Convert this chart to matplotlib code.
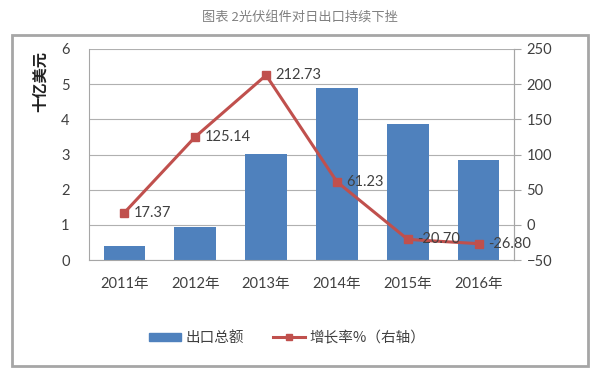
import matplotlib
matplotlib.use('Agg')
import matplotlib.pyplot as plt
from matplotlib.patches import Rectangle
from matplotlib.lines import Line2D
from matplotlib.patches import Patch

plt.rcParams['font.family'] = ['Lato', 'Noto Sans CJK SC', 'DejaVu Sans']

# data
years = ['2011年', '2012年', '2013年', '2014年', '2015年', '2016年']
export_total = [0.41, 0.95, 3.02, 4.89, 3.87, 2.84]   # 十亿美元
growth_rate = [17.37, 125.14, 212.73, 61.23, -20.70, -26.80]  # %
left_ticks = [0, 1, 2, 3, 4, 5, 6]
right_ticks = [-50, 0, 50, 100, 150, 200, 250]

blue = '#4F81BD'
red = '#C0504D'
txt = '#404040'

fig = plt.figure(figsize=(6, 3.75), dpi=100)

# outer grey frame
fig.patches.append(Rectangle((12 / 600, 1 - 366 / 375), (588 - 12) / 600, (366 - 35) / 375,
                             transform=fig.transFigure, fill=False,
                             edgecolor='#A6A6A6', linewidth=2))

fig.text(0.5, 1 - 18 / 375, '图表 2光伏组件对日出口持续下挫', ha='center', va='center',
         fontsize=9.5, color='#808080', family=['Noto Sans CJK SC', 'DejaVu Sans'])

ax = fig.add_axes([89 / 600, 1 - 260 / 375, (514 - 89) / 600, (260 - 49) / 375])
x = list(range(len(years)))
ax.bar(x, export_total, width=0.59, color=blue, zorder=2)
ax.set_xlim(-0.5, len(years) - 0.5)
ax.set_ylim(0, 6)
ax.set_yticks(left_ticks)
ax.set_xticks(x)
ax.set_xticklabels(years)
ax.grid(axis='y', color='#B0B0B0', linewidth=0.8, zorder=0)
ax.spines['top'].set_visible(False)
for s in ['left', 'bottom', 'right']:
    ax.spines[s].set_color('#A6A6A6')
ax.tick_params(axis='both', length=0, labelsize=10.5, labelcolor=txt)
ax.tick_params(axis='x', pad=12)
ax.tick_params(axis='y', pad=14)

ax2 = ax.twinx()
ax2.plot(x, growth_rate, color=red, linewidth=2.2, marker='s', markersize=6, zorder=3)
ax2.set_ylim(-50, 250)
ax2.set_yticks(right_ticks)
for s in ['top', 'left', 'bottom']:
    ax2.spines[s].set_visible(False)
ax2.spines['right'].set_color('#A6A6A6')
ax2.tick_params(axis='y', length=5, color='#A6A6A6', labelsize=10.5, labelcolor=txt, pad=4)
for xi, v in zip(x, growth_rate):
    ax2.annotate('%.2f' % v, (xi, v), xytext=(7, 0), textcoords='offset points',
                 ha='left', va='center', fontsize=10.5, color=txt)

fig.text(40 / 600, 1 - 82 / 375, '十亿美元', rotation=90, ha='center', va='center',
         fontsize=11, fontweight='bold', color='#202020',
         family=['Noto Sans CJK SC', 'DejaVu Sans'])

handles = [Patch(facecolor=blue, edgecolor=blue),
           Line2D([0], [0], color=red, linewidth=2.2, marker='s', markersize=5)]
fig.legend(handles, ['出口总额', '增长率%（右轴）'], loc='center left', ncol=2,
           bbox_to_anchor=(136 / 600, 1 - 338 / 375), frameon=False,
           handlelength=2.2, handleheight=0.45, handletextpad=0.3, columnspacing=2.0,
           labelcolor=txt, prop={'family': ['Noto Sans CJK SC', 'DejaVu Sans'], 'size': 10.5})

fig.savefig('out.png', dpi=100)
